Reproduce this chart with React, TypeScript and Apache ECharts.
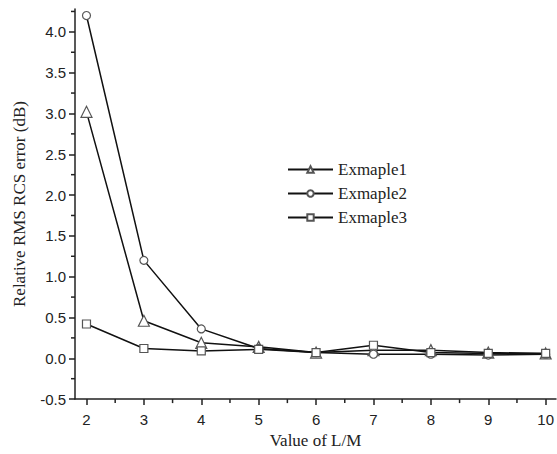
import React, { useEffect, useRef } from "react";
import * as echarts from "echarts";

const xValues = [2, 3, 4, 5, 6, 7, 8, 9, 10];
const example1 = [3.02, 0.46, 0.19, 0.14, 0.07, 0.1, 0.1, 0.07, 0.06];
const example2 = [4.2, 1.2, 0.36, 0.12, 0.07, 0.05, 0.05, 0.04, 0.05];
const example3 = [0.42, 0.12, 0.09, 0.11, 0.07, 0.16, 0.07, 0.06, 0.06];
const seriesNames = ["Exmaple1", "Exmaple2", "Exmaple3"];
const xTicks = [2, 3, 4, 5, 6, 7, 8, 9, 10];
const xMinorTicks = [2.5, 3.5, 4.5, 5.5, 6.5, 7.5, 8.5, 9.5];
const yTicks = [-0.5, 0, 0.5, 1, 1.5, 2, 2.5, 3, 3.5, 4];
const yMinorTicks = [-0.25, 0.25, 0.75, 1.25, 1.75, 2.25, 2.75, 3.25, 3.75, 4.25];
const X_MIN = 1.8;
const X_MAX = 10.18;
const Y_MIN = -0.5;
const Y_MAX = 4.28;

export default function App() {
  const ref = useRef<HTMLDivElement>(null);
  useEffect(() => {
    const chart = echarts.init(ref.current!, null, { renderer: "svg" });
    const mk = (name: string, vals: number[], symbol: string, size: number) => ({
      name,
      type: "line",
      data: xValues.map((x, i) => [x, vals[i]]),
      symbol,
      symbolSize: size,
      showAllSymbol: true,
      lineStyle: { color: "#111", width: 1.5 },
      itemStyle: { color: "#fff", borderColor: "#555", borderWidth: 1.2 },
    });
    const axisLine = { show: true, onZero: false, lineStyle: { color: "#222", width: 1.5 } };
    const tickStyle = { color: "#222", width: 1.5 };
    chart.setOption({
      animation: false,
      grid: { left: 75, right: 0, top: 9, bottom: 51, containLabel: false },
      legend: {
        orient: "vertical",
        left: 282,
        top: 156,
        itemWidth: 45,
        itemHeight: 8,
        itemGap: 7,
        data: seriesNames,
        textStyle: { fontFamily: "Liberation Serif", fontSize: 17, color: "#222" },
      },
      xAxis: {
        type: "value",
        min: X_MIN,
        max: X_MAX,
        axisLine,
        splitLine: { show: false },
        axisTick: { show: true, inside: false, length: 6, customValues: xTicks, lineStyle: tickStyle },
        axisLabel: { customValues: xTicks, fontFamily: "Liberation Sans", fontSize: 15, color: "#222", margin: 13 },
        name: "Value of L/M",
        nameLocation: "middle",
        nameGap: 31,
        nameTextStyle: { fontFamily: "Liberation Serif", fontSize: 17, color: "#222" },
      },
      yAxis: {
        type: "value",
        min: Y_MIN,
        max: Y_MAX,
        axisLine,
        splitLine: { show: false },
        axisTick: { show: true, inside: false, length: 6, customValues: yTicks, lineStyle: tickStyle },
        axisLabel: {
          customValues: yTicks,
          formatter: (v: number) => v.toFixed(1),
          fontFamily: "Liberation Sans",
          fontSize: 15,
          color: "#222",
          margin: 9,
        },
        name: "Relative RMS RCS error (dB)",
        nameLocation: "middle",
        nameGap: 47,
        nameTextStyle: { fontFamily: "Liberation Serif", fontSize: 17, color: "#222" },
      },
      series: [
        mk(seriesNames[0], example1, "triangle", 11),
        mk(seriesNames[1], example2, "circle", 8),
        mk(seriesNames[2], example3, "rect", 8),
      ],
    });
    // minor ticks, positioned through the library's own scales
    const minor: any[] = [];
    xMinorTicks.forEach((v) => {
      const p = chart.convertToPixel({ gridIndex: 0 }, [v, Y_MIN]) as number[];
      minor.push({
        type: "line",
        shape: { x1: p[0], y1: p[1], x2: p[0], y2: p[1] + 4 },
        style: { stroke: "#222", lineWidth: 1.5 },
        silent: true,
        z: 100,
      });
    });
    yMinorTicks.forEach((v) => {
      const p = chart.convertToPixel({ gridIndex: 0 }, [X_MIN, v]) as number[];
      minor.push({
        type: "line",
        shape: { x1: p[0] - 4, y1: p[1], x2: p[0], y2: p[1] },
        style: { stroke: "#222", lineWidth: 1.5 },
        silent: true,
        z: 100,
      });
    });
    chart.setOption({ graphic: { elements: minor } });
    return () => chart.dispose();
  }, []);
  return <div ref={ref} style={{ width: 557, height: 454, position: "absolute", left: 0, top: 0, background: "#fff" }} />;
}
